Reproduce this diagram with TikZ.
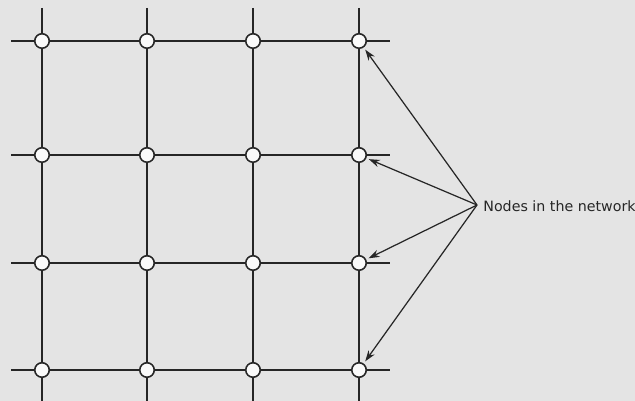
\documentclass[tikz,border=0pt]{standalone}
\usepackage{fontspec}
\newfontfamily\labelfont{DejaVu Sans}
\usetikzlibrary{arrows.meta, positioning}
\definecolor{paper}{HTML}{E4E4E4}
\definecolor{ink}{HTML}{262626}

\begin{document}
\begin{tikzpicture}[
  x=0.02cm, y=-0.02cm,
  nd/.style={circle, draw=ink, fill=white!80!paper, line width=0.9pt, minimum size=0.29cm, inner sep=0pt},
  gridline/.style={ink, line width=1.05pt},
  lbl/.style={font=\labelfont\fontsize{8.1}{9}\selectfont, color=ink, anchor=west, inner sep=0pt},
  arr/.style={-{Stealth[length=2.2mm,width=1.5mm]}, ink, line width=0.7pt, shorten >=1.5pt}
]
\fill[paper] (0,0) rectangle (635,401);
\useasboundingbox (0,0) rectangle (635,401);
% grid lines, drawn first so the nodes sit on top
\foreach \r/\y in {1/41,2/155,3/263,4/370} {
  \coordinate (w\r) at (11,\y); \coordinate (e\r) at (390,\y);
  \draw[gridline] (w\r) -- (e\r);
}
\foreach \c/\x in {1/42,2/147,3/253,4/359} {
  \coordinate (t\c) at (\x,8); \coordinate (b\c) at (\x,401);
  \draw[gridline] (t\c) -- (b\c);
}
% nodes
\foreach \c/\x in {1/42,2/147,3/253,4/359}
  \foreach \r/\y in {1/41,2/155,3/263,4/370}
    \node[nd] (n\r\c) at (\x,\y) {};

\node[lbl] (txt) at (483,206) {Nodes in the network};
\coordinate (src) at (477,205);
\foreach \r in {1,...,4} \draw[arr] (src) -- (n\r4);
\end{tikzpicture}
\end{document}
